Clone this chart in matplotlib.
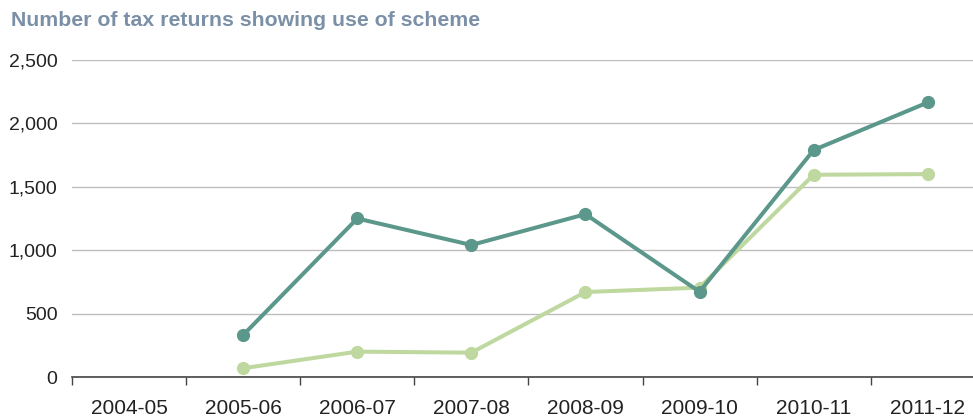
import matplotlib.pyplot as plt
from matplotlib.ticker import FixedLocator, FuncFormatter

plt.rcParams['font.family'] = ['Liberation Sans', 'DejaVu Sans']

years = ['2004-05', '2005-06', '2006-07', '2007-08', '2008-09', '2009-10', '2010-11', '2011-12']
# series start in 2005-06 (no value for 2004-05)
dark_vals = [None, 331, 1250, 1041, 1284, 672, 1790, 2165]
light_vals = [None, 69, 200, 192, 670, 705, 1595, 1600]

dark_color = '#5b978a'
light_color = '#bfd89f'

fig = plt.figure(figsize=(9.73, 4.19), dpi=100)
ax = fig.add_axes([72 / 973, 42 / 419, 1 - 72 / 973, 317 / 419])

xs = [i for i, v in enumerate(dark_vals) if v is not None]
ax.plot(xs, [dark_vals[i] for i in xs], color=dark_color, lw=2.9,
        marker='o', ms=8.5, zorder=4)
xs = [i for i, v in enumerate(light_vals) if v is not None]
ax.plot(xs, [light_vals[i] for i in xs], color=light_color, lw=2.9,
        marker='o', ms=8.5, zorder=3)

ax.set_ylim(0, 2500)
ax.set_xlim(-0.5, -0.5 + (973 - 72) / 114.1)
ax.set_yticks([0, 500, 1000, 1500, 2000, 2500])
ax.yaxis.set_major_formatter(FuncFormatter(lambda v, p: f'{int(v):,}'))
ax.yaxis.grid(True, color='#bdbdbd', lw=1)
ax.set_axisbelow(True)

# boundaries get tick marks, centres get the labels
ax.xaxis.set_major_locator(FixedLocator([i - 0.5 for i in range(len(years) + 1)]))
ax.xaxis.set_major_formatter(FuncFormatter(lambda v, p: ''))
ax.xaxis.set_minor_locator(FixedLocator(range(len(years))))
ax.set_xticklabels(years, minor=True)
ax.tick_params(axis='x', which='major', length=6, width=1, color='#444444', direction='out')
ax.tick_params(axis='x', which='minor', length=0, pad=16, labelsize=15, labelcolor='#222222')
ax.tick_params(axis='y', length=0, pad=10.5, labelsize=14, labelcolor='#222222')

for s in ['top', 'right', 'left']:
    ax.spines[s].set_visible(False)
ax.spines['bottom'].set_color('#444444')
ax.spines['bottom'].set_linewidth(1.2)

fig.text(11 / 973, 1 - 20 / 419, 'Number of tax returns showing use of scheme',
         fontsize=15.3, fontweight='bold', color='#7b90a7', va='center', ha='left')

fig.savefig('out.png', dpi=100)
